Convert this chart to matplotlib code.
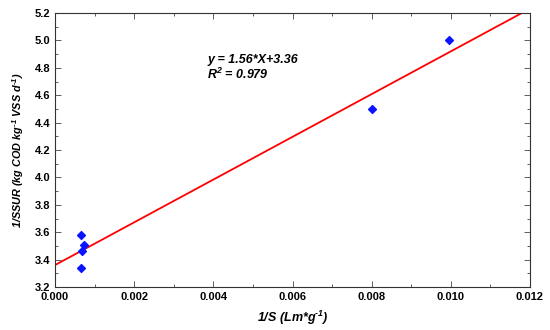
import numpy as np
import matplotlib.pyplot as plt
from matplotlib.ticker import MultipleLocator

plt.rcParams['font.family'] = ['Liberation Sans', 'DejaVu Sans']
plt.rcParams['mathtext.fontset'] = 'custom'
plt.rcParams['mathtext.rm'] = 'Liberation Sans:bold:italic'
plt.rcParams['mathtext.it'] = 'Liberation Sans:bold:italic'
plt.rcParams['mathtext.bf'] = 'Liberation Sans:bold:italic'

# measured points
inv_s = [0.00066, 0.00072, 0.00068, 0.00066, 0.0080, 0.00995]
inv_ssur = [3.58, 3.51, 3.46, 3.34, 4.50, 5.00]

# linear fit reported on chart
slope = 156.0
intercept = 3.36

fig = plt.figure(figsize=(5.5, 3.3), dpi=100)
ax = fig.add_axes([55/550, 1 - 287/330, 475/550, 274/330])

xf = np.array([0.0, 0.012])
ax.plot(xf, slope * xf + intercept, color="red", lw=1.3)
ax.scatter(inv_s, inv_ssur, marker="D", s=16, color="#0a14ff", zorder=3)

ax.set_xlim(0, 0.012)
ax.set_ylim(3.2, 5.2)
ax.xaxis.set_major_locator(MultipleLocator(0.002))
ax.xaxis.set_minor_locator(MultipleLocator(0.001))
ax.yaxis.set_major_locator(MultipleLocator(0.2))
ax.yaxis.set_minor_locator(MultipleLocator(0.1))
ax.xaxis.set_major_formatter(plt.FuncFormatter(lambda v, p: f"{v:.3f}"))
ax.yaxis.set_major_formatter(plt.FuncFormatter(lambda v, p: f"{v:.1f}"))
ax.tick_params(which="both", direction="in", top=True, right=True,
               labelsize=8, width=0.6, color="#444444")
ax.tick_params(which="major", length=4)
ax.tick_params(which="minor", length=2)
for lab in ax.get_xticklabels() + ax.get_yticklabels():
    lab.set_fontweight("bold")
for sp in ax.spines.values():
    sp.set_linewidth(0.8)
    sp.set_color("#333333")

ax.set_xlabel("1/S (Lm*g$^{\u20101}$)", fontsize=9, fontweight="bold",
              fontstyle="italic", labelpad=5)
ax.set_ylabel("1/SSUR (kg COD kg$^{\u20101}$ VSS d$^{\u20101}$)", fontsize=7.8,
              fontweight="bold", fontstyle="italic", labelpad=6)

ax.text(0.00385, 4.86, "y = 1.56*X+3.36", fontsize=9, fontweight="bold",
        fontstyle="italic", va="center")
ax.text(0.00385, 4.755, "R$^{2}$ = 0.979", fontsize=9, fontweight="bold",
        fontstyle="italic", va="center")

fig.savefig("out.png", dpi=100)
